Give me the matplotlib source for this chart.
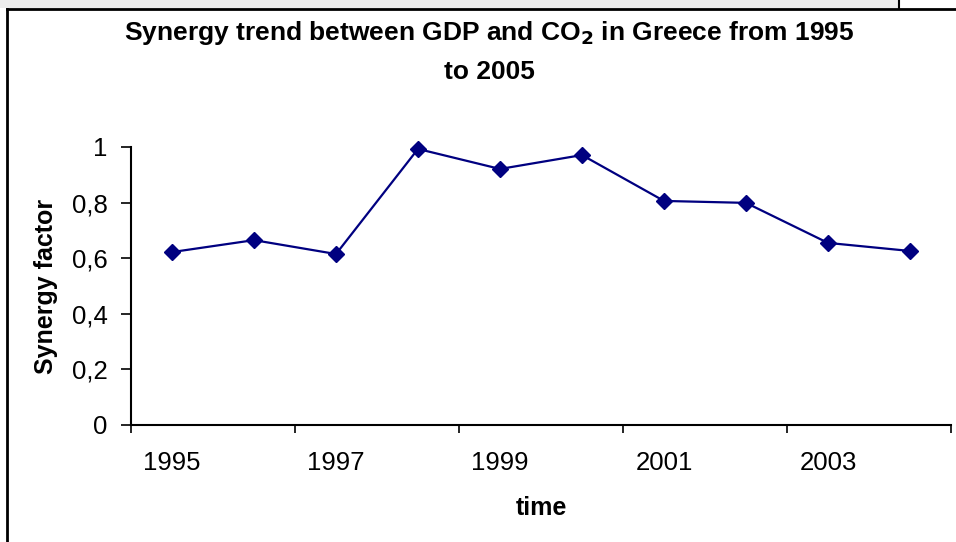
import matplotlib.pyplot as plt
from matplotlib.patches import Rectangle
from matplotlib.lines import Line2D

# Synergy factor between GDP and CO2 emissions, Greece
years = ['1995', '1996', '1997', '1998', '1999', '2000', '2001', '2002', '2003', '2004']
synergy = [0.622, 0.665, 0.615, 0.993, 0.921, 0.971, 0.806, 0.799, 0.655, 0.626]
y_ticks = [0, 0.2, 0.4, 0.6, 0.8, 1.0]
y_tick_labels = ['0', '0,2', '0,4', '0,6', '0,8', '1']

plt.rcParams['font.family'] = ['Liberation Sans', 'DejaVu Sans']

W, H = 956, 542
fig = plt.figure(figsize=(W / 100, H / 100), dpi=100)

# grey strip and chart frame along the top/left edges
fig.patches.append(Rectangle((0, 1 - 8 / H), 899 / W, 8 / H, transform=fig.transFigure,
                             facecolor='#ececec', edgecolor='none', zorder=0))
fig.lines.append(Line2D([6.5 / W, 1], [1 - 8.5 / H, 1 - 8.5 / H], transform=fig.transFigure,
                        color='black', linewidth=2))
fig.lines.append(Line2D([6.5 / W, 6.5 / W], [0, 1 - 8.5 / H], transform=fig.transFigure,
                        color='black', linewidth=2))
fig.lines.append(Line2D([899 / W, 899 / W], [1, 1 - 8 / H], transform=fig.transFigure,
                        color='black', linewidth=1.5))

ax = fig.add_axes([131 / W, 1 - 425 / H, 820 / W, 278 / H])

x = list(range(len(years)))
ax.plot(x, synergy, color='#000080', linewidth=1.6, marker='D', markersize=8.5,
        markerfacecolor='#000080', markeredgecolor='#000080', clip_on=False)

ax.set_xlim(-0.5, len(years) - 0.5)
ax.set_ylim(0, 1)

# category axis: ticks on boundaries every two years, labels on category centres
ax.set_xticks([i - 0.5 for i in range(0, len(years) + 1, 2)])
ax.set_xticklabels([])
ax.set_xticks(x[::2], minor=True)
ax.set_xticklabels(years[::2], minor=True, fontsize=18.5)
ax.tick_params(axis='x', which='major', length=6, width=1.2, direction='out')
ax.tick_params(axis='x', which='minor', length=0, pad=19)

ax.set_yticks(y_ticks)
ax.set_yticklabels(y_tick_labels, fontsize=18.5)
ax.tick_params(axis='y', length=7, width=1.2, direction='out', pad=10)

for side in ['top', 'right']:
    ax.spines[side].set_visible(False)
for side in ['left', 'bottom']:
    ax.spines[side].set_linewidth(1.5)

ax.set_ylabel('Synergy factor', fontsize=18, fontweight='bold', labelpad=10)
ax.set_xlabel('time', fontsize=18, fontweight='bold', labelpad=15)

fig.text(489 / W, 1 - 33 / H, 'Synergy trend between GDP and CO$_\\mathbf{2}$ in Greece from 1995',
         ha='center', va='center', fontsize=19, fontweight='bold')
fig.text(489 / W, 1 - 72 / H, 'to 2005', ha='center', va='center', fontsize=19, fontweight='bold')

fig.savefig('out.png', dpi=100)
